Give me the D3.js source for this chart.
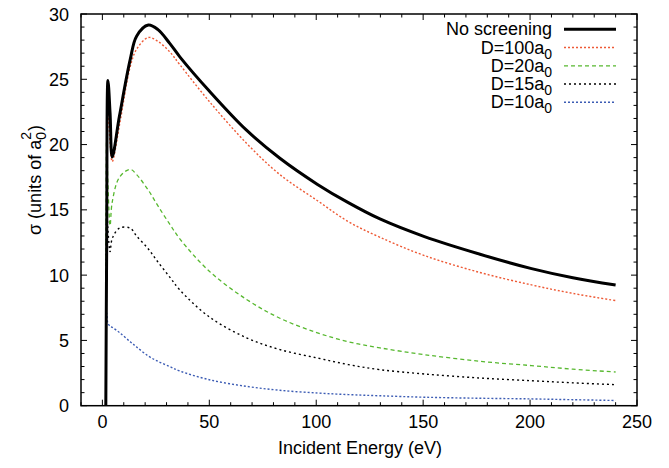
<!DOCTYPE html>
<html>
<head>
<meta charset="utf-8">
<script src="https://cdn.jsdelivr.net/npm/d3@7"></script>
<style>
  body { margin: 0; background: #fff; }
  svg text { font-family: "Liberation Sans", Arial, Helvetica, sans-serif; fill: #000; }
</style>
</head>
<body>
<svg id="chart" width="669" height="468"></svg>
<script>
"use strict";

// incident energy grid (eV), shared by every curve
var energy = [1.6, 2.0, 2.6, 3.6, 4.6, 8, 13, 16, 21.5, 26, 31.5, 36.3, 50, 67.4, 83, 100.6, 115, 129.8, 150.6, 176.6, 200.7, 220, 240];

// cross sections (units of a0^2)
var noScreening = [0, 12, 24.9, 22.4, 19.05, 22.2, 26.5, 28.3, 29.15, 28.8, 27.75, 26.7, 24.1, 21.1, 18.95, 16.95, 15.55, 14.3, 12.95, 11.6, 10.5, 9.8, 9.24];
var d100 = [0, 11, 22.5, 20.2, 18.7, 21.5, 25.96, 27.3, 28.2, 27.9, 27.1, 26.1, 23.3, 20.1, 17.7, 15.7, 14.1, 12.9, 11.5, 10.2, 9.25, 8.6, 8.05];
var d20 = [0, 20.5, 17, 13.8, 15.6, 17.5, 18.1, 17.7, 16.5, 15.3, 13.9, 12.76, 10.3, 8.14, 6.7, 5.58, 4.9, 4.43, 3.91, 3.4, 3.07, 2.8, 2.58];
var d15 = [0, 15.5, 13.5, 11.8, 12.8, 13.6, 13.6, 13.0, 12.0, 11.0, 9.85, 8.85, 6.8, 5.2, 4.3, 3.65, 3.15, 2.76, 2.43, 2.12, 1.91, 1.75, 1.61];
var d10 = [0, 7.1, 6.3, 6.1, 6.0, 5.6, 4.9, 4.5, 3.8, 3.4, 3.0, 2.65, 1.99, 1.48, 1.18, 0.97, 0.85, 0.76, 0.65, 0.57, 0.52, 0.46, 0.40];

// legend labels: [text, subscript]
var labels = [["No screening", ""], ["D=100a", "0"], ["D=20a", "0"], ["D=15a", "0"], ["D=10a", "0"]];

var xTicks = [0, 50, 100, 150, 200, 250];
var yTicks = [0, 5, 10, 15, 20, 25, 30];

var series = [
    { values: noScreening, color: "#000000", width: 3, dash: null },
    { values: d100, color: "#ee5a36", width: 1.4, dash: "2,2" },
    { values: d20, color: "#57b82f", width: 1.3, dash: "4,3" },
    { values: d15, color: "#000000", width: 1.4, dash: "2,3" },
    { values: d10, color: "#3c5cb4", width: 1.4, dash: "2,2" }
];
series.forEach(function (s, i) { s.label = labels[i]; });

var plotLeft = 81, plotRight = 637, plotTop = 14, plotBottom = 405.7;

var svg = d3.select("#chart");

var x = d3.scaleLinear().domain([-10, 250]).range([plotLeft, plotRight]);
var y = d3.scaleLinear().domain([0, 30]).range([plotBottom, plotTop]);

// curves
var line = d3.line()
    .x(function (d) { return x(d[0]); })
    .y(function (d) { return y(d[1]); })
    .curve(d3.curveCatmullRom.alpha(0.5));

var plot = svg.append("g");
plot.append("clipPath").attr("id", "clip").append("rect")
    .attr("x", plotLeft).attr("y", plotTop).attr("width", plotRight - plotLeft).attr("height", plotBottom - plotTop);

// draw from the back: blue first, thick black last
series.slice().reverse().forEach(function (s) {
    plot.append("path")
        .datum(energy.map(function (e, i) { return [e, s.values[i]]; }))
        .attr("clip-path", "url(#clip)")
        .attr("fill", "none")
        .attr("stroke", s.color)
        .attr("stroke-width", s.width)
        .attr("stroke-dasharray", s.dash)
        .attr("stroke-linejoin", "round")
        .attr("d", line);
});

// ticks on all four sides
var ax = svg.append("g").attr("stroke", "#000").attr("stroke-width", 1);
var MAJOR = 6, MINOR = 3.5;
d3.range(-10, 251, 10).forEach(function (v) {
    var len = v % 50 === 0 ? MAJOR : MINOR;
    ax.append("line").attr("x1", x(v)).attr("x2", x(v)).attr("y1", plotBottom).attr("y2", plotBottom - len);
    ax.append("line").attr("x1", x(v)).attr("x2", x(v)).attr("y1", plotTop).attr("y2", plotTop + len);
});
d3.range(0, 31, 1).forEach(function (v) {
    var len = v % 5 === 0 ? MAJOR : MINOR;
    ax.append("line").attr("x1", plotLeft).attr("x2", plotLeft + len).attr("y1", y(v)).attr("y2", y(v));
    ax.append("line").attr("x1", plotRight).attr("x2", plotRight - len).attr("y1", y(v)).attr("y2", y(v));
});

svg.append("rect")
    .attr("x", plotLeft).attr("y", plotTop).attr("width", plotRight - plotLeft).attr("height", plotBottom - plotTop)
    .attr("fill", "none").attr("stroke", "#000").attr("stroke-width", 1.5);

// tick labels
svg.selectAll(".xl").data(xTicks).enter().append("text")
    .attr("x", function (d) { return x(d); })
    .attr("y", 428)
    .attr("text-anchor", "middle")
    .attr("font-size", 18)
    .text(function (d) { return d; });

svg.selectAll(".yl").data(yTicks).enter().append("text")
    .attr("x", 69)
    .attr("y", function (d) { return y(d) + 6.5; })
    .attr("text-anchor", "end")
    .attr("font-size", 18)
    .text(function (d) { return d; });

// axis titles
svg.append("text")
    .attr("x", 360).attr("y", 454)
    .attr("text-anchor", "middle")
    .attr("font-size", 18)
    .text("Incident Energy (eV)");

var yt = svg.append("text")
    .attr("transform", "translate(41,235) rotate(-90)")
    .attr("font-size", 18);
yt.append("tspan").text("\u03c3 (units of a");
yt.append("tspan").attr("font-size", 14).attr("dy", 5).text("0");
yt.append("tspan").attr("font-size", 14).attr("dx", -7.8).attr("dy", -15).text("2");
yt.append("tspan").attr("dx", 1).attr("dy", 10).text(")");

// legend
var legendY = [29.3, 47.5, 65.8, 84, 102.3];
series.forEach(function (s, i) {
    var t = svg.append("text")
        .attr("x", 552).attr("y", legendY[i] + 6)
        .attr("text-anchor", "end")
        .attr("font-size", 18);
    t.append("tspan").text(s.label[0]);
    if (s.label[1]) {
        t.append("tspan").attr("font-size", 14).attr("dy", 5).text(s.label[1]);
    }
    svg.append("line")
        .attr("x1", 564).attr("x2", 616)
        .attr("y1", legendY[i]).attr("y2", legendY[i])
        .attr("stroke", s.color)
        .attr("stroke-width", s.width)
        .attr("stroke-dasharray", s.dash);
});
</script>
</body>
</html>
